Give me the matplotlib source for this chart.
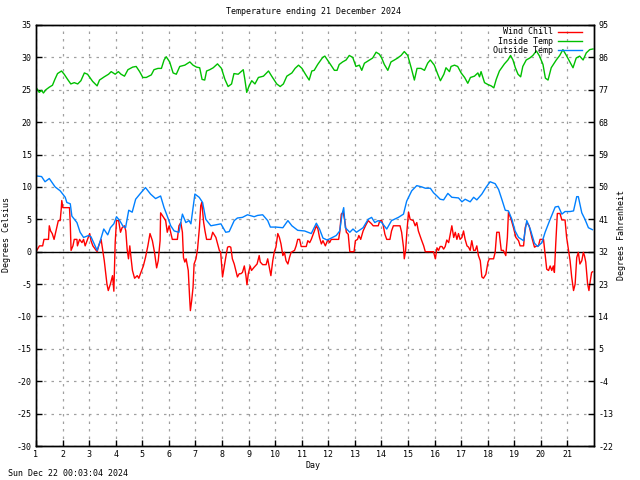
import matplotlib
matplotlib.use("Agg")
import matplotlib.pyplot as plt

# ---------------- data ----------------
title = "Temperature ending 21 December 2024"
timestamp = "Sun Dec 22 00:03:04 2024"
day_ticks = list(range(1, 22))
c_ticks = list(range(-30, 36, 5))
f_tick_labels = ["-22", "-13", "-4", "5", "14", "23", "32", "41", "50", "59", "68", "77", "86", "95"]

wc_day = [1.00, 1.13, 1.25, 1.30, 1.47, 1.50, 1.55, 1.61, 1.68, 1.78, 1.84, 1.91, 1.95, 1.97, 2.01,
          2.26, 2.29, 2.32, 2.39, 2.44, 2.54, 2.56, 2.64, 2.73, 2.79, 2.85, 2.94, 3.02, 3.07, 3.14,
          3.23, 3.30, 3.36, 3.45, 3.52, 3.57, 3.62, 3.67, 3.72, 3.80, 3.88, 3.93, 3.98, 4.03, 4.11,
          4.18, 4.24, 4.33, 4.38, 4.43, 4.48, 4.53, 4.58, 4.63, 4.71, 4.81, 4.87, 4.93, 5.04, 5.12,
          5.21, 5.29, 5.38, 5.46, 5.54, 5.60, 5.67, 5.69, 5.88, 5.94, 6.01, 6.13, 6.32, 6.38, 6.45,
          6.51, 6.55, 6.60, 6.65, 6.73, 6.78, 6.81, 6.86, 6.91, 6.95, 7.02, 7.08, 7.15, 7.20, 7.24,
          7.31, 7.36, 7.42, 7.58, 7.65, 7.77, 7.90,
          7.95, 8.02, 8.08, 8.14, 8.21, 8.27, 8.33, 8.39, 8.46, 8.52, 8.58, 8.65, 8.71, 8.77, 8.84,
          8.90, 8.94, 8.99, 9.06, 9.11, 9.21, 9.32, 9.37, 9.40, 9.44, 9.53, 9.66, 9.72, 9.78, 9.84,
          9.91, 9.97, 10.03, 10.10, 10.16, 10.22, 10.29, 10.35, 10.41, 10.48, 10.54, 10.60, 10.73,
          10.79, 10.85, 10.92, 10.98, 11.17, 11.23, 11.30, 11.36, 11.46, 11.55, 11.61, 11.67, 11.74,
          11.80, 11.89, 11.99, 12.05, 12.11, 12.24, 12.39, 12.43, 12.49, 12.56, 12.62, 12.68, 12.75,
          12.81, 12.97, 13.02, 13.10, 13.15, 13.22, 13.31, 13.40, 13.50, 13.63, 13.69, 13.88, 13.94,
          14.01, 14.07, 14.13, 14.20, 14.32, 14.38, 14.45, 14.70, 14.76, 14.83, 14.86, 14.91, 14.96,
          15.02, 15.08, 15.20, 15.27, 15.33, 15.39,
          15.50, 15.59, 15.65, 15.96, 16.03, 16.09, 16.15, 16.21, 16.28, 16.34, 16.40, 16.46, 16.53,
          16.59, 16.65, 16.72, 16.78, 16.84, 16.90, 16.96, 17.03, 17.09, 17.15, 17.22, 17.28, 17.34,
          17.40, 17.47, 17.53, 17.59, 17.65, 17.72, 17.78, 17.84, 17.93, 18.01, 18.06, 18.22, 18.28,
          18.34, 18.43, 18.51, 18.59, 18.68, 18.74, 18.78, 18.88, 18.97, 19.06, 19.16, 19.22, 19.35,
          19.41, 19.47, 19.56, 19.66, 19.76, 19.85, 19.91, 19.97, 20.10, 20.16, 20.22, 20.29, 20.35,
          20.41, 20.47, 20.51, 20.56, 20.62, 20.72, 20.79, 20.91, 20.97, 21.04, 21.10, 21.16, 21.23,
          21.29, 21.35, 21.41, 21.47, 21.54, 21.60, 21.64, 21.69, 21.76, 21.81, 21.86, 21.91, 21.95]
wc_temp = [0.0, 0.9, 0.9, 1.9, 1.9, 4.0, 3.2, 2.8, 1.9, 3.7, 4.8, 4.8, 6.6, 7.9, 6.8,
           6.8, 4.3, 0.2, 0.9, 1.9, 1.9, 0.9, 1.9, 1.4, 1.9, 0.9, 1.9, 2.8, 1.7, 0.9,
           0.4, 0.0, 0.9, 1.9, 0.0, -1.4, -3.2, -5.0, -6.0, -5.0, -3.7, -6.1, 1.4, 4.8, 4.8,
           3.0, 3.7, 4.0, 3.2, 0.4, -1.1, 0.9, -1.1, -2.9, -4.1, -3.7, -4.1, -3.4, -2.2, -0.9,
           0.9, 2.8, 1.7, -0.1, -2.5, -1.4, 1.7, 6.0, 4.8, 3.0, 4.0, 1.9, 1.9, 4.0, 4.5,
           3.0, -0.9, -1.6, -1.1, -2.9, -7.0, -9.1, -7.5, -5.5, -1.9, -1.1, 0.4, 3.7, 7.1, 7.6,
           4.5, 3.2, 1.9, 1.9, 3.0, 2.2, 0.2,
           -0.1, -3.9, -2.4, -0.9, 0.7, 0.8, 0.7, -1.1, -1.9, -2.9, -3.9, -3.4, -3.4, -3.2, -2.2,
           -3.7, -5.1, -3.4, -2.2, -2.9, -2.4, -1.9, -1.1, -0.6, -1.6, -2.0, -2.0, -1.1, -2.4, -3.7,
           -1.4, 0.0, 0.7, 2.8, 2.2, 1.2, -0.6, -0.1, -1.4, -1.9, -0.9, -0.1, 0.2,
           0.9, 1.9, 1.9, 0.8, 0.8, 1.7, 1.4, 1.9, 3.0, 4.0, 3.5, 2.2, 1.2,
           1.7, 0.9, 1.9, 1.4, 1.9, 1.9, 1.9, 3.0, 5.8, 6.1, 4.8, 3.0, 2.7,
           0.0, 0.0, 1.7, 1.9, 2.5, 1.9, 3.2, 4.0, 4.8, 4.3, 4.0, 4.0, 4.8,
           4.8, 4.0, 2.7, 1.9, 1.9, 3.2, 4.0, 4.0, 3.0, 0.7, -1.1, 0.2, 3.2,
           6.1, 5.0, 4.8, 4.0, 4.5, 3.2,
           1.9, 0.9, 0.0, 0.0, -1.1, 0.6, 0.2, 0.8, 0.8, 0.4, 0.8, 1.8, 1.4,
           2.7, 4.0, 2.2, 3.0, 1.9, 2.8, 1.9, 2.2, 3.2, 1.9, 0.9, 0.7, 0.2,
           1.7, 0.2, 0.2, 0.9, -0.6, -1.4, -3.9, -4.1, -3.5, -1.6, -1.1, -1.1, -0.1,
           3.0, 3.0, 0.2, 0.2, -0.6, 2.2, 6.1, 5.0, 3.7, 2.2, 1.7, 0.9, 0.9,
           3.7, 4.5, 4.0, 2.2, 0.7, 0.9, 0.9, 1.9, 1.9, -0.4, -2.7, -2.9, -2.2,
           -2.9, -2.2, -3.2, 1.2, 5.9, 5.9, 4.9, 4.9, 2.2, 0.2, -1.4, -3.9, -6.0,
           -5.0, -0.9, -0.1, -1.9, -1.4, -0.1, -0.6, -1.6, -5.0, -6.0, -4.5, -3.2, -3.1]

in_day = [1.00, 1.12, 1.21, 1.28, 1.37, 1.50, 1.62, 1.71, 1.81, 1.96, 2.06, 2.19, 2.31, 2.44, 2.57,
          2.69, 2.82, 2.94, 3.13, 3.30, 3.39, 3.57, 3.73, 3.83, 3.98, 4.10, 4.20, 4.33, 4.46, 4.64,
          4.77, 4.90, 5.02, 5.15, 5.34, 5.44, 5.59, 5.72, 5.82, 5.90, 6.03, 6.16, 6.28, 6.41, 6.60,
          6.79, 6.91, 7.04, 7.16, 7.25, 7.35, 7.42, 7.54, 7.67, 7.83, 7.98, 8.11, 8.23, 8.36, 8.45,
          8.61, 8.80, 8.86, 8.93, 9.02, 9.12, 9.24, 9.37, 9.56, 9.75, 9.87, 10.06, 10.19, 10.31,
          10.44, 10.63, 10.75, 10.88, 11.01, 11.14, 11.28, 11.38, 11.47, 11.60, 11.79, 11.87, 11.97,
          12.10, 12.23, 12.33, 12.41, 12.54, 12.67, 12.79, 12.92, 13.04, 13.17, 13.26, 13.36, 13.55,
          13.67, 13.80, 13.92, 14.01, 14.11, 14.24, 14.36, 14.49, 14.61, 14.74, 14.86, 14.99, 15.12,
          15.24, 15.34, 15.49, 15.62, 15.74, 15.84, 15.99, 16.12, 16.22, 16.35, 16.43, 16.56, 16.62,
          16.75, 16.87, 17.00, 17.13, 17.25, 17.35, 17.50, 17.63, 17.69, 17.75, 17.88, 18.01, 18.13,
          18.23, 18.32, 18.44, 18.63, 18.76, 18.86, 18.95, 19.04, 19.14, 19.24, 19.32, 19.45, 19.58,
          19.70, 19.83, 19.95, 20.08, 20.17, 20.27, 20.39, 20.58, 20.71, 20.83, 20.96, 21.08, 21.21,
          21.33, 21.46, 21.59, 21.71, 21.84, 21.96]
in_temp = [25.4, 24.6, 24.9, 24.5, 25.0, 25.4, 25.7, 26.6, 27.5, 27.9, 27.4, 26.6, 25.9, 26.1, 25.9,
           26.4, 27.6, 27.4, 26.3, 25.6, 26.5, 27.0, 27.4, 27.8, 27.4, 27.8, 27.4, 27.1, 28.1, 28.5,
           28.6, 27.8, 26.9, 26.9, 27.3, 28.1, 28.3, 28.3, 29.6, 30.1, 29.3, 27.6, 27.4, 28.6, 28.8,
           29.3, 28.8, 28.5, 28.4, 26.6, 26.5, 27.9, 28.1, 28.4, 29.0, 28.3, 26.6, 25.5, 25.9, 27.5,
           27.4, 28.1, 26.6, 24.6, 25.6, 26.4, 25.9, 26.9, 27.1, 27.9, 27.1, 25.9, 25.5, 25.9,
           27.1, 27.6, 28.3, 28.8, 28.3, 27.4, 26.5, 27.9, 28.0, 28.9, 30.0, 30.2, 29.6,
           28.8, 28.0, 28.0, 28.9, 29.3, 29.6, 30.3, 30.0, 28.6, 28.8, 28.0, 29.1, 29.6,
           29.9, 30.8, 30.5, 29.9, 28.9, 28.0, 29.3, 29.6, 29.9, 30.3, 30.9, 30.3, 28.4,
           26.5, 28.3, 28.3, 28.0, 29.1, 29.6, 28.8, 27.4, 26.4, 27.4, 28.4, 27.8, 28.6,
           28.8, 28.6, 27.6, 26.9, 26.0, 26.9, 27.1, 27.6, 27.0, 27.8, 26.1, 25.8, 25.6,
           25.3, 26.6, 27.9, 29.0, 29.6, 30.3, 29.6, 28.4, 27.4, 27.0, 28.6, 29.6, 29.9,
           30.3, 31.0, 30.2, 28.9, 26.8, 26.5, 28.4, 29.6, 30.3, 31.2, 30.3, 29.4, 28.4,
           29.9, 30.2, 29.6, 30.7, 31.2, 31.3]

out_day = [1.00, 1.21, 1.34, 1.50, 1.72, 1.91, 2.10, 2.16, 2.29, 2.35, 2.54, 2.66, 2.79, 2.98, 3.07,
           3.17, 3.30, 3.42, 3.55, 3.70, 3.80, 3.93, 4.03, 4.15, 4.28, 4.37, 4.49, 4.62, 4.75, 4.93,
           5.12, 5.31, 5.50, 5.69, 5.82, 5.94, 6.07, 6.20, 6.38, 6.51, 6.64, 6.76, 6.83, 6.98, 7.14,
           7.27, 7.39, 7.58, 7.83, 7.96, 8.14, 8.27, 8.46, 8.58, 8.77, 8.96, 9.21, 9.34, 9.53, 9.72,
           9.82, 10.03, 10.29, 10.48, 10.63, 10.85, 11.11, 11.36, 11.55, 11.67, 11.80, 11.96, 12.11,
           12.30, 12.43, 12.52, 12.58, 12.64, 12.81, 12.93, 13.06, 13.31, 13.50, 13.63, 13.75, 13.88,
           14.01, 14.20, 14.38, 14.64, 14.83, 14.95, 15.14, 15.33, 15.52, 15.65, 15.84, 15.96, 16.09,
           16.21, 16.34, 16.50, 16.65, 16.90, 17.03, 17.15, 17.34, 17.47, 17.59, 17.78, 17.93, 18.09,
           18.28, 18.41, 18.53, 18.66, 18.78, 18.91, 19.03, 19.16, 19.35, 19.47, 19.60, 19.76, 19.88,
           20.04, 20.16, 20.35, 20.54, 20.66, 20.79, 20.91, 21.10, 21.23, 21.35, 21.41, 21.54, 21.66,
           21.79, 21.94]
out_temp = [11.7, 11.6, 10.8, 11.3, 10.0, 9.4, 8.4, 7.6, 7.4, 5.5, 4.5, 3.0, 2.2, 2.5, 2.3,
            1.4, 0.2, 1.7, 3.5, 2.6, 3.7, 4.3, 5.4, 4.8, 3.9, 3.7, 6.4, 6.1, 8.1, 9.0,
            9.9, 8.9, 8.2, 8.6, 6.8, 5.5, 4.0, 3.2, 3.0, 5.8, 4.5, 4.8, 4.3, 8.9, 8.4,
            7.6, 5.0, 4.0, 4.2, 4.3, 3.0, 3.1, 4.8, 5.2, 5.3, 5.7, 5.4, 5.6, 5.7, 4.8,
            3.8, 3.8, 3.7, 4.8, 4.0, 3.3, 3.2, 2.8, 4.4, 3.5, 2.1, 1.8, 2.1,
            2.5, 3.2, 5.8, 6.8, 3.7, 3.0, 3.5, 3.0, 3.7, 5.0, 5.3, 4.5, 4.8,
            4.5, 3.5, 4.8, 5.3, 5.8, 7.8, 9.4, 10.2, 10.0, 9.8, 9.8, 9.1, 8.6,
            8.1, 8.0, 9.0, 8.4, 8.3, 7.7, 8.1, 7.7, 8.4, 8.0, 8.9, 9.9, 10.8,
            10.5, 9.6, 8.1, 6.4, 6.3, 5.0, 3.2, 2.2, 1.7, 4.8, 3.5, 1.3, 0.8,
            1.4, 3.0, 5.0, 6.9, 7.0, 5.8, 6.2, 6.2, 6.3, 8.5, 8.5, 6.0, 5.0,
            3.7, 3.4]

# ---------------- figure ----------------
W, H = 640, 480
fig = plt.figure(figsize=(6.4, 4.8), dpi=100)
ax = fig.add_axes([36 / W, 1 - 446 / H, (594 - 36) / W, (446 - 25) / H])

FONT = "DejaVu Sans Mono"
FS = 6.0

ax.set_xlim(1, 22)
ax.set_ylim(-30, 35)
ax.set_xticks(day_ticks)
ax.set_xticklabels([str(d) for d in day_ticks], fontfamily=FONT, fontsize=FS)
ax.set_yticks(c_ticks)
ax.set_yticklabels([str(c) for c in c_ticks], fontfamily=FONT, fontsize=FS)
ax.tick_params(direction="in", length=4, width=1, pad=3, top=False)
ax.grid(True, color="#a0a0a0", linestyle=(0, (2, 4)), linewidth=0.9)
for s in ax.spines.values():
    s.set_linewidth(1.0)
    s.set_color("black")

ax.axhline(0, color="black", linewidth=1.0, zorder=1.8)

l1, = ax.plot(wc_day, wc_temp, color="#ff0000", linewidth=1.0, label="Wind Chill", zorder=2)
l2, = ax.plot(in_day, in_temp, color="#00c000", linewidth=1.0, label="Inside Temp", zorder=2.1)
l3, = ax.plot(out_day, out_temp, color="#0080ff", linewidth=1.0, label="Outside Temp", zorder=2.2)

ax2 = ax.twinx()
ax2.set_ylim(-30, 35)
ax2.set_yticks(c_ticks)
ax2.set_yticklabels(f_tick_labels, fontfamily=FONT, fontsize=FS)
ax2.tick_params(direction="in", length=4, width=1, pad=3)
for s in ax2.spines.values():
    s.set_linewidth(1.0)

leg = ax.legend(handles=[l1, l2, l3], loc="upper right", bbox_to_anchor=(0.984, 1.002),
                frameon=False, markerfirst=False, handlelength=2.9, handletextpad=0.6,
                labelspacing=0.05, borderaxespad=0.0,
                prop={"family": FONT, "size": FS})
leg.set_zorder(5)

fig.text(313 / W, 1 - 12 / H, title, ha="center", va="center", fontfamily=FONT, fontsize=FS)
fig.text(313 / W, 1 - 466 / H, "Day", ha="center", va="center", fontfamily=FONT, fontsize=FS)
fig.text(7 / W, 1 - 235 / H, "Degrees Celsius", ha="center", va="center", rotation=90,
         fontfamily=FONT, fontsize=FS)
fig.text(621 / W, 1 - 235 / H, "Degrees Fahrenheit", ha="center", va="center", rotation=90,
         fontfamily=FONT, fontsize=FS)
fig.text(8 / W, 1 - 474 / H, timestamp, ha="left", va="center", fontfamily=FONT, fontsize=FS)

fig.savefig("out.png", dpi=100)
